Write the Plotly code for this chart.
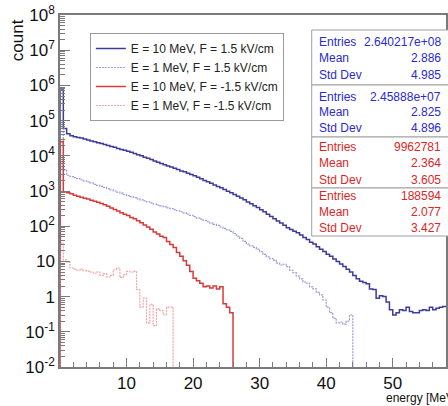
import plotly.graph_objects as go

# ---------------- data ----------------
bin_width = 0.5  # MeV, histograms start at 0

# E = 10 MeV, F = 1.5 kV/cm
counts_10_pos = [7.4e5, 6.0e4, 4.2e4, 3.7e4, 3.5e4, 3.3e4, 3.2e4, 3.0e4, 2.8e4, 2.63e4,
                 2.5e4, 2.35e4, 2.24e4, 2.1e4, 1.95e4, 1.84e4, 1.74e4, 1.62e4, 1.51e4, 1.43e4,
                 1.35e4, 1.26e4, 1.17e4, 1.07e4, 1.0e4, 9.1e3, 8.5e3, 7.8e3, 7.1e3, 6.6e3,
                 6.0e3, 5.6e3, 5.1e3, 4.8e3, 4.4e3, 4.1e3, 3.7e3, 3.5e3, 3.2e3, 2.95e3,
                 2.7e3, 2.45e3, 2.24e3, 2.0e3, 1.82e3, 1.66e3, 1.48e3, 1.35e3, 1.23e3, 1.1e3,
                 990, 890, 795, 710, 630, 560, 490, 436, 380, 339,
                 295, 257, 219, 190, 162, 141, 123, 107, 91, 81,
                 72, 65, 56, 48, 42, 35, 31, 26, 22, 19,
                 16, 14, 11.7, 10, 8.5, 7.2, 6.0, 5.0, 4.0, 3.2,
                 2.75, 2.5, 2.3, 1.65, 1.6, 0.9, 1.05, 1.0, 0.7, 0.42,
                 0.30, 0.35, 0.42, 0.40, 0.50, 0.38, 0.35, 0.35, 0.40, 0.42,
                 0.40, 0.50, 0.42, 0.47, 0.50, 0.52]

# E = 1 MeV, F = 1.5 kV/cm
counts_1_pos = [6.0e4, 4000, 2800, 2570, 2400, 2240, 2090, 1950, 1820, 1700,
                1550, 1450, 1350, 1260, 1175, 1070, 1000, 930, 870, 795,
                740, 690, 645, 600, 560, 525, 490, 457, 427, 398,
                380, 355, 331, 316, 295, 275, 257, 240, 219, 204,
                186, 170, 158, 145, 135, 123, 112, 105, 95, 87,
                79, 71, 62, 52, 45, 37, 31, 27.5, 25, 22.4,
                19, 15.8, 13.5, 12, 10.7, 8.9, 7.9, 8.3, 7.1, 5.6,
                4.8, 3.8, 3.2, 2.6, 2.4, 1.9, 1.66, 1.32, 1.12, 0.8,
                0.5, 0.35, 0.24, 0.18, 0.19, 0.166, 0.2, 0.3]

# E = 10 MeV, F = -1.5 kV/cm
counts_10_neg = [2.5e4, 955, 890, 830, 760, 710, 660, 620, 590, 550,
                 510, 480, 445, 410, 370, 330, 300, 270, 240, 220,
                 200, 178, 162, 143, 125, 108, 95, 82, 68, 60,
                 52, 48, 37, 30, 25, 18, 14, 10.5, 7.8, 5.2,
                 3.3, 2.8, 2.4, 1.9, 2.0, 1.75, 2.0, 1.65, 1.9, 0.63,
                 0.50, 0.35]

# E = 1 MeV, F = -1.5 kV/cm
counts_1_neg = [33, 11, 9.5, 6.5, 6.0, 5.6, 6.0, 5.5, 5.3, 5.0,
                4.6, 5.0, 4.0, 4.5, 3.6, 4.0, 5.8, 6.5, 3.5, 4.2,
                5.2, 5.0, 5.3, 1.6, 0.5, 0.9, 0.18, 0.6, 0.15, 0.45,
                0.4, 0.3, 0.5, 0.5]

series_names = ["E = 10 MeV, F = 1.5 kV/cm", "E = 1 MeV, F = 1.5 kV/cm",
                "E = 10 MeV, F = -1.5 kV/cm", "E = 1 MeV, F = -1.5 kV/cm"]
series_counts = [counts_10_pos, counts_1_pos, counts_10_neg, counts_1_neg]

stat_entries = ["2.640217e+08", "2.45888e+07", "9962781", "188594"]
stat_means = ["2.886", "2.825", "2.364", "2.077"]
stat_stds = ["4.985", "4.896", "3.605", "3.427"]

x_ticks = [10, 20, 30, 40, 50]
y_exponents = [-2, -1, 0, 1, 2, 3, 4, 5, 6, 7, 8]

# ---------------- styles ----------------
colors = ["#3d3d99", "#9c9cd8", "#d83a3a", "#f0a4a4"]
widths = [1.5, 1.2, 1.5, 1.2]
dashes = ["solid", "2px,1px", "solid", "2px,1px"]
stat_colors = ["#2a2ad0", "#2a2ad0", "#dc2626", "#dc2626"]
FONT = "Liberation Sans, Arial, Helvetica, sans-serif"
X_MAX = 58.0
FLOOR = 1e-4


def step_xy(counts, full):
    xs, ys = [0.0], [FLOOR]
    for i, c in enumerate(counts):
        xs.append(i * bin_width)
        ys.append(c)
    n = len(counts)
    xs.append(n * bin_width)
    ys.append(counts[-1])
    if not full:
        xs.append(n * bin_width)
        ys.append(FLOOR)
    return xs, ys


fig = go.Figure()
for k, (name, cnt) in enumerate(zip(series_names, series_counts)):
    xs, ys = step_xy(cnt, full=(len(cnt) * bin_width >= X_MAX))
    fig.add_trace(go.Scatter(
        x=xs, y=ys, mode="lines", name=name,
        line=dict(color=colors[k], width=widths[k], dash=dashes[k], shape="hv"),
    ))

# ---------------- layout geometry (pixels) ----------------
W, H = 448, 406
ml, mr, mt, mb = 60, 0, 15, 39
pw, ph = W - ml - mr, H - mt - mb


def px_x(p):
    return (p - ml) / pw


def px_y(p):
    return 1 - (p - mt) / ph


ytext = []
for e in y_exponents:
    if e == 0:
        ytext.append("1")
    elif e == 1:
        ytext.append("10")
    else:
        ytext.append("10<sup>%d</sup>" % e)

axis_col = "#7a7a7a"
fig.update_layout(
    width=W, height=H,
    margin=dict(l=ml, r=mr, t=mt, b=mb, pad=0),
    paper_bgcolor="white", plot_bgcolor="white",
    font=dict(family=FONT, color="#111"),
    showlegend=True,
    legend=dict(
        x=px_x(90), y=px_y(33), xanchor="left", yanchor="top",
        bgcolor="white", bordercolor="#9a9a9a", borderwidth=1,
        font=dict(family=FONT, size=12, color="#222"),
        itemwidth=30, tracegroupgap=0,
    ),
    xaxis=dict(
        range=[0, X_MAX], showgrid=False, zeroline=False,
        showline=True, linecolor=axis_col, linewidth=1.5, mirror=True,
        ticks="inside", ticklen=9, tickcolor=axis_col, tickwidth=1,
        tickvals=x_ticks, ticktext=[str(v) for v in x_ticks],
        tickfont=dict(family=FONT, size=17, color="#111"),
        minor=dict(dtick=2, tick0=0, ticks="inside", ticklen=5, tickcolor=axis_col, showgrid=False),
    ),
    yaxis=dict(
        type="log", range=[-2, 8], showgrid=False, zeroline=False,
        showline=True, linecolor=axis_col, linewidth=1.5, mirror=True,
        ticks="inside", ticklen=10, tickcolor=axis_col, tickwidth=1,
        tickvals=[10.0 ** e for e in y_exponents], ticktext=ytext,
        tickfont=dict(family=FONT, size=17, color="#111"),
        minor=dict(dtick="D1", ticks="inside", ticklen=5, tickcolor=axis_col, showgrid=False),
    ),
)

# axis titles
fig.add_annotation(text="count", xref="paper", yref="paper",
                   x=px_x(17), y=px_y(40), xanchor="center", yanchor="middle",
                   textangle=-90, showarrow=False,
                   font=dict(family=FONT, size=17, color="#111"))
fig.add_annotation(text="energy [MeV]", xref="paper", yref="paper",
                   x=px_x(386), y=px_y(398), xanchor="left", yanchor="middle",
                   showarrow=False, font=dict(family=FONT, size=12, color="#111"))

# stats boxes
box_tops = [30, 85, 137, 188]
box_bottoms = [85, 137, 188, 236]
row_offsets = [[11.5, 28, 45], [11.5, 27, 43], [10, 26, 43], [7.5, 24, 40]]
for k in range(4):
    fig.add_shape(type="rect", xref="paper", yref="paper",
                  x0=px_x(313), x1=px_x(470), y0=px_y(box_bottoms[k]), y1=px_y(box_tops[k]),
                  line=dict(color="#a0a0a0", width=1), fillcolor="white", layer="above")
    labels = ["Entries", "Mean", "Std Dev"]
    vals = [stat_entries[k], stat_means[k], stat_stds[k]]
    for lab, val, off in zip(labels, vals, row_offsets[k]):
        yy = px_y(box_tops[k] + off)
        fig.add_annotation(text=lab, xref="paper", yref="paper", x=px_x(318), y=yy,
                           xanchor="left", yanchor="middle", showarrow=False,
                           font=dict(family=FONT, size=12, color=stat_colors[k]))
        fig.add_annotation(text=val, xref="paper", yref="paper", x=px_x(445), y=yy,
                           xanchor="right", yanchor="middle", showarrow=False,
                           font=dict(family=FONT, size=12, color=stat_colors[k]))

fig.write_html("out.html")
